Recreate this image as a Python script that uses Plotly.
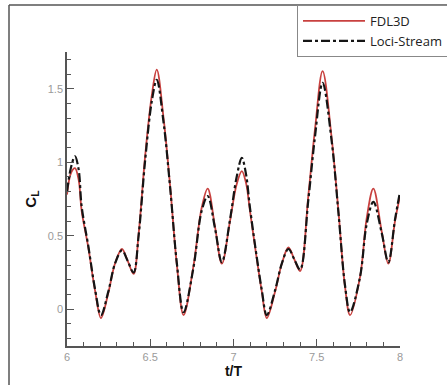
import plotly.graph_objects as go

t_over_T = [6.000, 6.025, 6.048, 6.070, 6.088, 6.128, 6.168, 6.204, 6.248, 6.288,
            6.330, 6.364, 6.400, 6.430, 6.470, 6.510, 6.539, 6.580, 6.620, 6.660,
            6.700, 6.759, 6.809, 6.845, 6.889, 6.930, 6.979, 7.019, 7.050, 7.075,
            7.099, 7.139, 7.170, 7.200, 7.250, 7.290, 7.330, 7.365, 7.400, 7.450,
            7.490, 7.535, 7.590, 7.630, 7.670, 7.700, 7.760, 7.800, 7.840, 7.890,
            7.930, 7.970, 8.000]

cl_fdl3d = [0.78, 0.93, 0.96, 0.88, 0.67, 0.42, 0.13, -0.06, 0.11, 0.31,
            0.41, 0.33, 0.24, 0.51, 1.05, 1.46, 1.63, 1.30, 0.83, 0.30,
            -0.04, 0.29, 0.69, 0.82, 0.56, 0.31, 0.60, 0.85, 0.94, 0.86,
            0.67, 0.35, 0.12, -0.06, 0.12, 0.31, 0.42, 0.34, 0.26, 0.78,
            1.23, 1.62, 1.16, 0.67, 0.15, -0.04, 0.22, 0.62, 0.82, 0.53,
            0.31, 0.60, 0.77]

cl_loci = [0.80, 0.97, 1.04, 0.95, 0.70, 0.43, 0.14, -0.04, 0.12, 0.31,
           0.40, 0.33, 0.25, 0.50, 1.02, 1.42, 1.56, 1.27, 0.82, 0.31,
           -0.02, 0.28, 0.67, 0.77, 0.55, 0.32, 0.61, 0.90, 1.03, 0.92,
           0.69, 0.36, 0.13, -0.04, 0.13, 0.31, 0.41, 0.34, 0.27, 0.75,
           1.18, 1.54, 1.14, 0.66, 0.16, -0.02, 0.22, 0.58, 0.73, 0.52,
           0.32, 0.61, 0.80]

W, H = 447, 385
L, R, T, B = 67, 47, 52, 39
pw, ph = W - L - R, H - T - B

def px_x(px):
    return (px - L) / pw

def px_y(py):
    return (H - B - py) / ph

fig = go.Figure()
fig.add_trace(go.Scatter(x=t_over_T, y=cl_fdl3d, mode="lines", name="FDL3D",
                         line=dict(color="#c8413f", width=1.8, shape="spline")))
fig.add_trace(go.Scatter(x=t_over_T, y=cl_loci, mode="lines", name="Loci-Stream",
                         line=dict(color="#151515", width=2.2, dash="dashdot", shape="spline")))

axis_common = dict(showline=True, linecolor="#555", linewidth=1.5, ticks="inside",
                   ticklen=7, tickwidth=1.2, tickcolor="#555", showgrid=False,
                   zeroline=False, mirror=False,
                   tickfont=dict(family="Liberation Sans", size=11, color="#9a9a9a"))

fig.update_layout(
    width=W, height=H,
    margin=dict(l=L, r=R, t=T, b=B, pad=0, autoexpand=False),
    paper_bgcolor="white", plot_bgcolor="white",
    xaxis=dict(range=[6, 8], dtick=0.5, tick0=6,
               minor=dict(ticks="inside", ticklen=4, dtick=0.1, tickcolor="#555", tickwidth=1),
               title=dict(text="t/T", standoff=1,
                          font=dict(family="Liberation Sans", size=14, color="#111", weight="bold")),
               **axis_common),
    yaxis=dict(range=[-0.25, 1.75], dtick=0.5, tick0=0,
               minor=dict(ticks="inside", ticklen=4, dtick=0.1, tickcolor="#555", tickwidth=1),
               title=dict(text="C<sub>L</sub>", standoff=8,
                          font=dict(family="Liberation Sans", size=15, color="#111", weight="bold")),
               **axis_common),
    showlegend=True,
    legend=dict(x=px_x(297), y=px_y(5), xanchor="left", yanchor="top",
                bgcolor="white", bordercolor="#888", borderwidth=1,
                font=dict(family="Open Sans", size=13, color="#222"),
                itemwidth=62, tracegroupgap=0),
    shapes=[
        dict(type="line", xref="paper", yref="paper", x0=px_x(9), x1=px_x(9),
             y0=px_y(5), y1=px_y(390), line=dict(color="#555", width=1.5)),
        dict(type="line", xref="paper", yref="paper", x0=px_x(9), x1=px_x(450),
             y0=px_y(5), y1=px_y(5), line=dict(color="#555", width=1.5)),
    ],
)

fig.write_html("out.html")
